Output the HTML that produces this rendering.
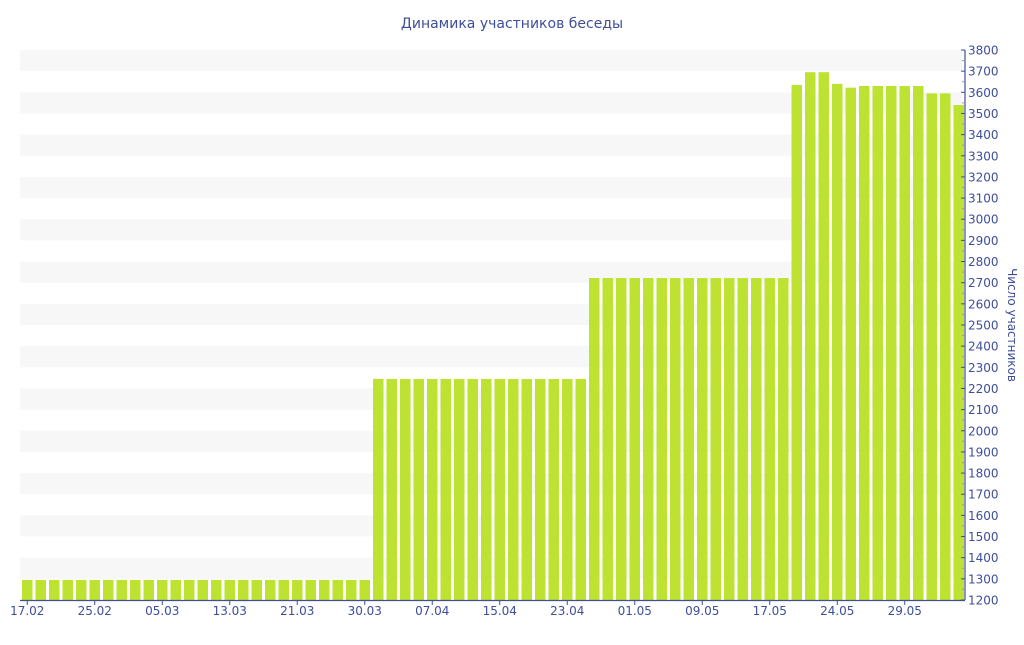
<!DOCTYPE html>
<html><head><meta charset="utf-8"><style>
body{margin:0;background:#fff;font-family:"Liberation Sans","DejaVu Sans",sans-serif}
svg text{font-family:"DejaVu Sans","Liberation Sans",sans-serif}
</style></head><body>
<svg id="chart" width="1024" height="640" xmlns="http://www.w3.org/2000/svg">
<text x="512" y="28" text-anchor="middle" font-size="14" fill="#3e4e9a">Динамика участников беседы</text>
<g id="bands"></g><g id="bars"></g><g id="axes"></g>
<text transform="translate(1008,325) rotate(90)" text-anchor="middle" font-size="12" fill="#3e4e9a">Число участников</text>
</svg>
<script>
const tickLabels=["17.02","25.02","05.03","13.03","21.03","30.03","07.04","15.04","23.04","01.05","09.05","17.05","24.05","29.05"];
const values=[
1295,1295,1295,1295,1295,1295,1295,1295,1295,1295,1295,1295,1295,1295,1295,1295,1295,1295,1295,1295,1295,1295,1295,1295,1295,1295,
2245,2245,2245,2245,2245,2245,2245,2245,2245,2245,2245,2245,2245,2245,2245,2245,
2722,2722,2722,2722,2722,2722,2722,2722,2722,2722,2722,2722,2722,2722,2722,
3635,3695,3695,3640,3622,3630,3630,3630,3630,3630,3595,3595,3540];
const yMin=1200,yMax=3800,yStep=100;
const X0=20,X1=962,Y0=600,Y1=50,step=13.5,barW=10.5,off=2;
const ns="http://www.w3.org/2000/svg";
function y(v){return Y0-(v-yMin)*(Y0-Y1)/(yMax-yMin);}
function xc(i){return X0+off+barW/2+i*step;}
function mk(t,a,p){const e=document.createElementNS(ns,t);for(const k in a)e.setAttribute(k,a[k]);p.appendChild(e);return e;}
const bands=document.getElementById('bands'),bars=document.getElementById('bars'),axes=document.getElementById('axes');
for(let v=yMin;v<yMax;v+=yStep){
 if(((v-yMin)/yStep)%2===1){const r=mk('rect',{x:X0,y:y(v+yStep),width:X1-X0,height:y(v)-y(v+yStep),fill:'#f7f7f7'},bands);
 
 }
}
values.forEach((v,i)=>{
 const r=mk('rect',{x:xc(i)-barW/2,y:y(v),width:barW,height:Y0-y(v),fill:'#bde232'},bars);
 
 
});
mk('line',{x1:X0,y1:Y0+0.5,x2:965,y2:Y0+0.5,stroke:'#3e4e9a','stroke-width':1.2},axes);
mk('line',{x1:965,y1:Y1,x2:965,y2:Y0,stroke:'#3e4e9a','stroke-width':1.2},axes);
for(let v=yMin;v<=yMax;v+=yStep){
 mk('line',{x1:961,y1:y(v),x2:965,y2:y(v),stroke:'#3e4e9a'},axes);
 if(v<yMax)mk('line',{x1:962,y1:y(v+yStep/2),x2:965,y2:y(v+yStep/2),stroke:'#999'},axes);
 const t=mk('text',{x:968,y:y(v)+4.5,'font-size':12,fill:'#3e4e9a'},axes);t.textContent=v;
 
 
}
tickLabels.forEach((l,k)=>{
 const x=xc(k*5);
 mk('line',{x1:x,y1:Y0,x2:x,y2:Y0+5,stroke:'#3e4e9a'},axes);
 const t=mk('text',{x:x,y:Y0+15,'font-size':12,'text-anchor':'middle',fill:'#3e4e9a'},axes);t.textContent=l;
 
 
});
</script>
</body></html>
